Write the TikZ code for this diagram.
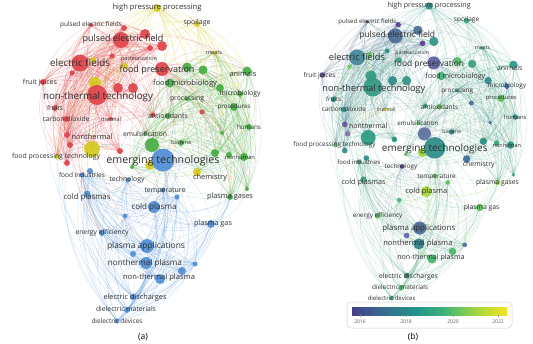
\documentclass[tikz,border=0pt]{standalone}
\usepackage{fontspec}
\setmainfont{Open Sans}
\usepackage{graphicx}
\usetikzlibrary{calc}
\pgfdeclarelayer{edgelayer}
\pgfsetlayers{edgelayer,main}
\definecolor{Rc}{HTML}{E0424A}
\definecolor{Gc}{HTML}{45AE42}
\definecolor{Yc}{HTML}{D4C91E}
\definecolor{Bc}{HTML}{4F8ED6}
\definecolor{txt}{HTML}{2E2E2E}
\definecolor{v0}{HTML}{463F8C}
\definecolor{v1}{HTML}{3E5E91}
\definecolor{v2}{HTML}{2F7C8E}
\definecolor{v3}{HTML}{21968A}
\definecolor{v4}{HTML}{3BB07A}
\definecolor{v5}{HTML}{7ACB55}
\definecolor{v6}{HTML}{BEDB35}
\definecolor{v7}{HTML}{F0E426}
\pgfdeclarehorizontalshading{viridis}{100bp}{color(0bp)=(v0); color(25bp)=(v0); color(32bp)=(v1); color(39bp)=(v2); color(46bp)=(v3); color(54bp)=(v4); color(61bp)=(v5); color(68bp)=(v6); color(75bp)=(v7); color(100bp)=(v7)}
\newlength\lbw
\newcommand\nd[6]{\colorlet{cA#1}{#5}\definecolor{cB#1}{HTML}{#6}\colorlet{eA#1}{#5}\colorlet{eB#1}{cB#1!75!v4}}
\newcommand\es[2]{}
\newcommand\grp[1]{}
\newcommand\lb[5]{}
\newcommand\nodelist{%
\nd{hpp}{157}{8}{4}{Yc}{2A8C84}
\nd{spo}{197}{24}{3}{Yc}{3AAA7C}
\nd{pefs}{91}{25}{2}{Rc}{5A3D8F}
\nd{ua}{124}{28}{3}{Rc}{5A3D8F}
\nd{ub}{150}{48}{3}{Rc}{5A3D8F}
\nd{pef}{121}{40}{8}{Rc}{4D6A96}
\nd{ui}{145}{34}{5}{Rc}{4A6C95}
\nd{uii}{162}{46}{5}{Rc}{2E9384}
\nd{meats}{214}{53}{2}{Yc}{4AAF70}
\nd{ef}{80}{63}{8.5}{Rc}{41879A}
\nd{uxi}{72}{73}{2.5}{Rc}{6FCF5C}
\nd{uxii}{112}{56}{2.5}{Rc}{2E8886}
\nd{uxiii}{93}{60}{3}{Yc}{5FC25D}
\nd{past}{125}{66}{3}{Yc}{3AA57A}
\nd{fp}{162}{69}{7}{Rc}{5B5FA0}
\nd{animals}{247}{71}{4.5}{Gc}{2A9A86}
\nd{fj}{43}{82}{3}{Rc}{5B3F90}
\nd{fm}{170}{83}{4.5}{Gc}{45B075}
\nd{uiii}{95}{83}{6}{Yc}{2E9A80}
\nd{ntt}{97}{95}{10}{Rc}{33987E}
\nd{uvia}{118}{88}{5}{Rc}{2F8A86}
\nd{uvib}{133}{88}{5}{Rc}{2F9484}
\nd{uviii}{187}{67}{4.5}{Gc}{52B96A}
\nd{uix}{203}{70}{4.5}{Gc}{3D9F7C}
\nd{ux}{220}{88}{4}{Gc}{2E8A86}
\nd{micro}{240}{94}{3}{Gc}{3F68A0}
\nd{proc}{187}{99}{2}{Gc}{2F9585}
\nd{pro}{234}{107}{4}{Gc}{5CC25A}
\nd{fruits}{55}{108}{3}{Rc}{2F8A82}
\nd{co2}{66}{119}{3}{Rc}{2D8A84}
\nd{thermal}{111}{119}{2}{Rc}{E8E020}
\nd{uxiv}{153}{115}{2.5}{Rc}{3A9A80}
\nd{uxv}{202}{112}{2.5}{Rc}{4A6AA0}
\nd{anti}{168}{116}{3}{Gc}{69C45A}
\nd{humans}{249}{127}{3}{Gc}{2D8F86}
\nd{uxviii}{222}{133}{2}{Gc}{3F6CA0}
\nd{nt}{67}{135}{3}{Rc}{6A4F9E}
\nd{uxvi}{70}{145}{3}{Rc}{8A6AB8}
\nd{uxvic}{67}{163}{3}{Rc}{2F8A82}
\nd{emul}{145}{134}{2}{Gc}{58B860}
\nd{bact}{181}{143}{3}{Gc}{2F9080}
\nd{fpt}{57}{157}{2.5}{Yc}{5BBF60}
\nd{uiv}{92}{149}{8}{Yc}{2A9A82}
\nd{uxvii}{120}{151}{3}{Rc}{2A9080}
\nd{uxx}{132}{167}{2}{Gc}{58B860}
\nd{uxxi}{150}{165}{5}{Yc}{9FD63E}
\nd{uv}{152}{145}{7}{Gc}{5D6F9D}
\nd{et}{163}{160}{11.5}{Bc}{2B8B86}
\nd{uxix}{215}{153}{4}{Gc}{2A9080}
\nd{uxixb}{229}{155}{3}{Gc}{3AA57C}
\nd{nonh}{244}{157}{4}{Gc}{2A9282}
\nd{fi}{82}{175}{2.5}{Bc}{3A9A80}
\nd{uxxii}{90}{171}{3}{Bc}{2E8A86}
\nd{tech}{128}{180}{2.5}{Bc}{553F8F}
\nd{chem}{197}{172}{4}{Yc}{3F6CA0}
\nd{temp}{163}{190}{2.5}{Bc}{6CC55A}
\nd{uxxiii}{247}{189}{2}{Gc}{3AA57C}
\nd{uxxiv}{177}{197}{2.5}{Bc}{5CC15E}
\nd{cps}{87}{194}{3.5}{Bc}{3AA57C}
\nd{pgs}{230}{197}{3}{Gc}{8FD24A}
\nd{cp}{154}{207}{6}{Bc}{A9D840}
\nd{uxxv}{125}{216}{2.5}{Bc}{4BB46C}
\nd{pg}{211}{224}{4}{Bc}{5CC15E}
\nd{ee}{102}{233}{3}{Bc}{5AC060}
\nd{pa}{147}{246}{7}{Bc}{4A6790}
\nd{uxxvi}{133}{254}{3}{Bc}{6666AA}
\nd{ntp}{146}{263}{6}{Bc}{2F8085}
\nd{uxxvii}{195}{264}{2.5}{Bc}{4A6AA0}
\nd{uxxviii}{182}{271}{4}{Bc}{4BB46C}
\nd{ntp2}{160}{279}{5}{Bc}{48B46E}
\nd{ed}{133}{297}{3}{Bc}{2E8C84}
\nd{dm}{127}{310}{3}{Bc}{4BB46C}
\nd{dd}{117}{321}{2.5}{Bc}{3AA070}
}
\nodelist
\newcommand\edgelist{%
\grp{ef,pef,ntt,ui,uii,uvia,uvib,fj,pefs,ua,ub,uxi,uxii,past,fruits,co2,thermal,nt,uxvi,uxvii,uxvic,uxiv,uiii,uxiii,uiv,fpt}
\grp{uv,fp,fm,animals,uviii,uix,ux,micro,proc,pro,anti,humans,uxviii,bact,emul,nonh,uxix,uxixb,uxv,chem,pgs,uxxiii,uxx,meats}
\grp{et,cp,pa,ntp,ntp2,cps,fi,uxxii,tech,temp,uxxv,pg,ee,uxxvi,uxxvii,uxxviii,ed,dm,dd,uxxiv}
\es{hpp}{spo,ui,uii,ub,ua,pef,ef,meats,animals,micro,fm,uviii,uix,ux,et,pro,nonh,uiii,uxiii,fj,ntt,fp,humans,uiv,fpt,pgs,chem,uvia,uvib,past,proc,anti,uv,uxix}
\es{spo}{meats,animals,uviii,uix,fm,micro,et,pro,humans,ux,fp,pef,ntt,nonh,uii,ui,uv,proc,uxix,bact}
\es{meats}{animals,ux,micro,uix,pro}
\es{ef}{et,fp,cps,fi,ee,uv,anti,emul}
\es{pef}{fp,et,animals,meats,fm,uv}
\es{fp}{ntt,et,ef,cp,uiv,thermal,uxxi}
\es{ntt}{et,uv,cps,fi,cp,temp,tech,pa,ee,emul,anti,uxxi}
\es{uiv}{et,cps,fi,cp,pa,ee,uxxii}
\es{et}{uv,nonh,humans,pro,bact,anti,chem,uxxi,nt,fpt,uiv,uxix,pgs,emul,uxx}
\es{cp}{pgs,chem,uxxi,uxxiii,bact}
\es{ed}{ef,ntt,fj,fpt,nonh,pgs,humans}
\es{dm}{fpt,pgs,fp}
\es{dd}{nt,uxvic}
\es{pg}{pgs,uxxiii,nonh,uxix}
\es{uxxi}{temp,chem,cp}
}
\newcommand\labellist{%
\lb{hpp}{157}{8}{89}{high pressure processing}
\lb{spo}{197}{23}{27}{spoilage}
\lb{pefs}{91}{25}{62}{pulsed electric fields}
\lb{pef}{123}{39}{81}{pulsed electric field}
\lb{meats}{214}{53}{16}{meats}
\lb{ef}{80}{63}{60}{electric fields}
\lb{past}{139}{59}{36}{pasteurization}
\lb{fp}{157}{70}{75}{food preservation}
\lb{animals}{243}{74}{27}{animals}
\lb{fj}{40}{83}{34}{fruit juices}
\lb{fm}{185}{84}{64}{food microbiology}
\lb{ntt}{98}{97}{110}{non-thermal technology}
\lb{micro}{240}{94}{41}{microbiology}
\lb{proc}{187}{99}{34}{processing}
\lb{pro}{234}{107}{33}{procedures}
\lb{fruits}{55}{108}{16}{fruits}
\lb{co2}{66}{119}{47}{carbon dioxide}
\lb{thermal}{111}{119}{20}{thermal}
\lb{anti}{168}{116}{40}{antioxidants}
\lb{humans}{249}{127}{24}{humans}
\lb{nt}{92}{137}{41}{nonthermal}
\lb{emul}{145}{134}{44}{emulsification}
\lb{bact}{181}{143}{20}{bacteria}
\lb{fpt}{56}{157}{88}{food processing technology}
\lb{et}{163}{161}{113}{emerging technologies}
\lb{nonh}{240}{157}{30}{nonhuman}
\lb{fi}{82}{175}{46}{food industries}
\lb{tech}{127}{180}{35}{technology}
\lb{chem}{210}{178}{34}{chemistry}
\lb{temp}{165}{191}{41}{temperature}
\lb{cps}{87}{197}{47}{cold plasmas}
\lb{pgs}{230}{197}{46}{plasma gases}
\lb{cp}{154}{207}{45}{cold plasma}
\lb{pg}{213}{224}{38}{plasma gas}
\lb{ee}{102}{233}{53}{energy efficiency}
\lb{pa}{146}{246}{78}{plasma applications}
\lb{ntp}{145}{263}{74}{nonthermal plasma}
\lb{ntp2}{159}{278}{72}{non-thermal plasma}
\lb{ed}{135}{298}{63}{electric discharges}
\lb{dm}{126}{309}{60}{dielectric materials}
\lb{dd}{117}{321}{51}{dielectric devices}
}
% one curved connector, bowing away from the panel centre
\newcommand\edg[3]{%
  \draw[edge,draw=e#1#2] let \p1=(#2), \p2=(#3), \p3=(ctr),
    \n1={(((\y1-\y2)/100)*((\x1+\x2)/200-\x3/100)+((\x2-\x1)/100)*((\y1+\y2)/200-\y3/100))>0 ? 24 : -24}
    in (#2) to[bend left=\n1] (#3);}
\newcommand\panel[1]{%
  \renewcommand\nd[6]{\node[dot,minimum size={2*##4*\sc*1pt},fill=c#1##1] (##1) at (##2,##3) {};}%
  \nodelist
  \coordinate (ctr) at (145,160);
  \begin{pgfonlayer}{edgelayer}%
    \renewcommand\es[2]{\foreach \t in {##2}{\edg{#1}{##1}{\t}}}%
    \renewcommand\grp[1]{\foreach \a [count=\i] in {##1}{\foreach \b [count=\j] in {##1}{\ifnum\j>\i\relax\edg{#1}{\a}{\b}\fi}}}%
    \edgelist
  \end{pgfonlayer}%
  \renewcommand\lb[5]{\node[lbl] (##1-t) at (##2,##3) {\setlength\lbw{##4pt}\resizebox{\sc\lbw}{!}{##5}};}%
  \labellist
}
\tikzset{
  dot/.style={circle,inner sep=0pt,draw=none,fill opacity=.92},
  edge/.style={line width=.35pt,draw opacity=\eo},
  lbl/.style={inner sep=0pt,text=txt,font=\fontsize{8}{9}\selectfont},
  capt/.style={inner sep=0pt,text=black,font=\fontsize{8.5}{10}\selectfont},
  yrlbl/.style={inner sep=0pt,text=black!65,font=\fontsize{5}{6}\selectfont}
}
\begin{document}
\begin{tikzpicture}[x=1pt,y=-1pt]
\useasboundingbox (0,0) rectangle (533,343);
\begin{scope}[name prefix=L-]
  \def\sc{1}\def\eo{.27}
  \panel{A}
\end{scope}
\begin{scope}[shift={(282,-1.46)},x=0.937pt,y=-0.933pt,name prefix=R-]
  \def\sc{0.935}\def\eo{.22}
  \panel{B}
\end{scope}
\node[capt] (capa) at (143,337) {(a)};
\node[capt] (capb) at (413,337) {(b)};
\draw[black!20,line width=.5pt,rounded corners=4pt] (347,302) rectangle (512,328);
\shade[shading=viridis] (352,307) rectangle (507,315);
\foreach \x/\yr in {360/2016,406/2018,453/2020,498/2022}{
  \draw[black!40,line width=.3pt] (\x,315) -- (\x,317);
  \node[yrlbl] (yr\yr) at (\x,322) {\yr};
}
\end{tikzpicture}
\end{document}
